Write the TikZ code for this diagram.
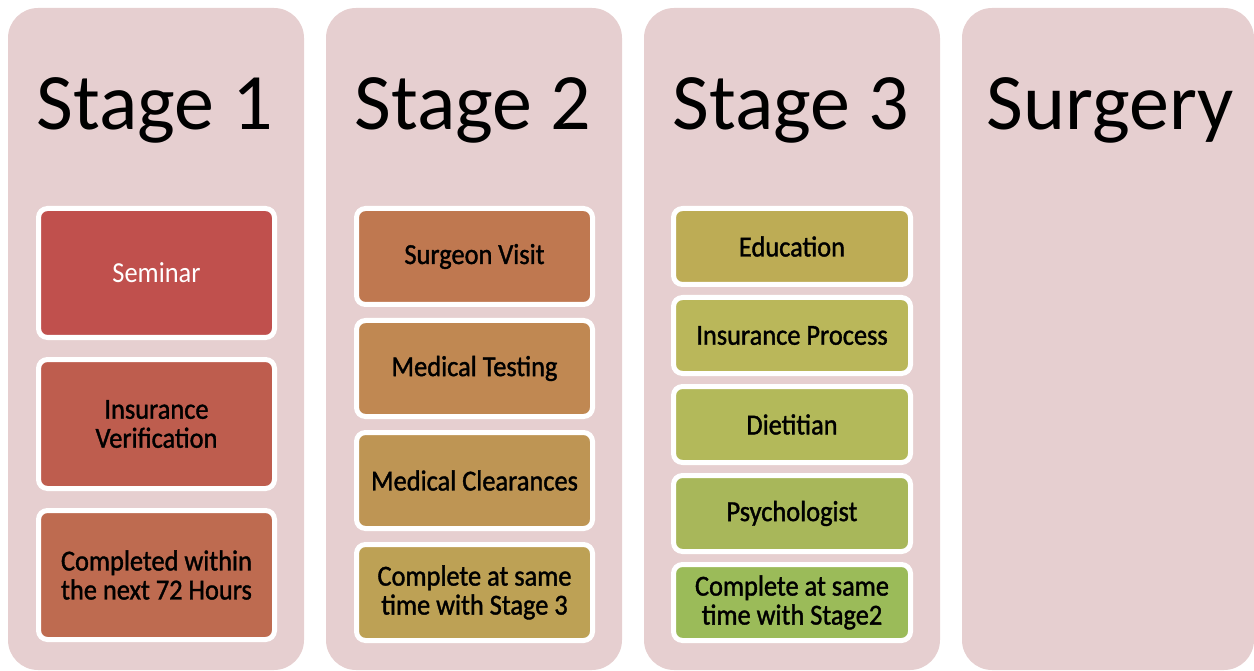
\documentclass[tikz,border=0pt]{standalone}
\usepackage{fontspec}
\setmainfont{Carlito}
\newfontfamily\boxfont[FakeStretch=0.91,FakeBold=1.3]{Carlito}
\newfontfamily\lightfont[FakeStretch=0.91]{Carlito}
\usetikzlibrary{positioning}

\definecolor{colbg}{RGB}{230,207,208}
\definecolor{bxa}{RGB}{192,80,77}
\definecolor{bxb}{RGB}{190,93,78}
\definecolor{bxc}{RGB}{190,107,80}
\definecolor{bxd}{RGB}{191,120,80}
\definecolor{bxe}{RGB}{192,136,82}
\definecolor{bxf}{RGB}{190,149,84}
\definecolor{bxg}{RGB}{189,161,85}
\definecolor{bxh}{RGB}{189,172,85}
\definecolor{bxi}{RGB}{186,183,90}
\definecolor{bxj}{RGB}{179,185,90}
\definecolor{bxk}{RGB}{168,183,90}
\definecolor{bxl}{RGB}{155,187,89}

\begin{document}
\begin{tikzpicture}[x=1pt,y=-1pt, % pixel coordinates, y going down
	stagecol/.style={rectangle,rounded corners=30pt,fill=colbg,
		minimum width=296pt,minimum height=662pt,inner sep=0pt},
	title/.style={font=\fontsize{80}{80}\selectfont,anchor=base},
	item/.style={rectangle,rounded corners=9pt,draw=white,line width=5pt,
		minimum width=236pt,align=center,inner sep=0pt,
		font=\boxfont\fontsize{29}{29}\selectfont}]
	\useasboundingbox (0,0) rectangle (1254,671);

	% the four stage columns
	\node[stagecol] (col1) at (156,339) {};
	\node[stagecol] (col2) at (474,339) {};
	\node[stagecol] (col3) at (792,339) {};
	\node[stagecol,minimum width=292pt] (col4) at (1108,339) {};

	\node[title] (t1) at (155,130) {Stage 1};
	\node[title] (t2) at (473,130) {Stage 2};
	\node[title] (t3) at (791,130) {Stage 3};
	\node[title] (t4) at (1110,130) {Surgery};

	% stage 1
	\node[item,fill=bxa,minimum height=129pt,text=white,
		font=\lightfont\fontsize{29}{29}\selectfont] (s1a) at (156.5,273) {Seminar};
	\foreach \txt/\clr [count=\i] in {{Insurance\\Verification}/bxb,
		{Completed within\\the next 72 Hours}/bxc}
		\node[item,fill=\clr,minimum height=129pt] (s1b\i) at (156.5,273+151*\i) {\txt};

	% stage 2
	\foreach \txt/\clr [count=\i from 0] in {Surgeon Visit/bxd, Medical Testing/bxe,
		Medical Clearances/bxf, {Complete at same\\time with Stage 3}/bxg}
		\node[item,fill=\clr,minimum height=96pt] (s2b\i) at (474.5,256.5+112*\i) {\txt};

	% stage 3
	\foreach \txt/\clr [count=\i from 0] in {Education/bxh, Insurance Process/bxi,
		Dietitian/bxj, Psychologist/bxk, {Complete at same\\time with Stage2}/bxl}
		\node[item,fill=\clr,minimum height=76pt,minimum width=237pt] (s3b\i) at (792,246.5+89*\i) {\txt};
\end{tikzpicture}
\end{document}
